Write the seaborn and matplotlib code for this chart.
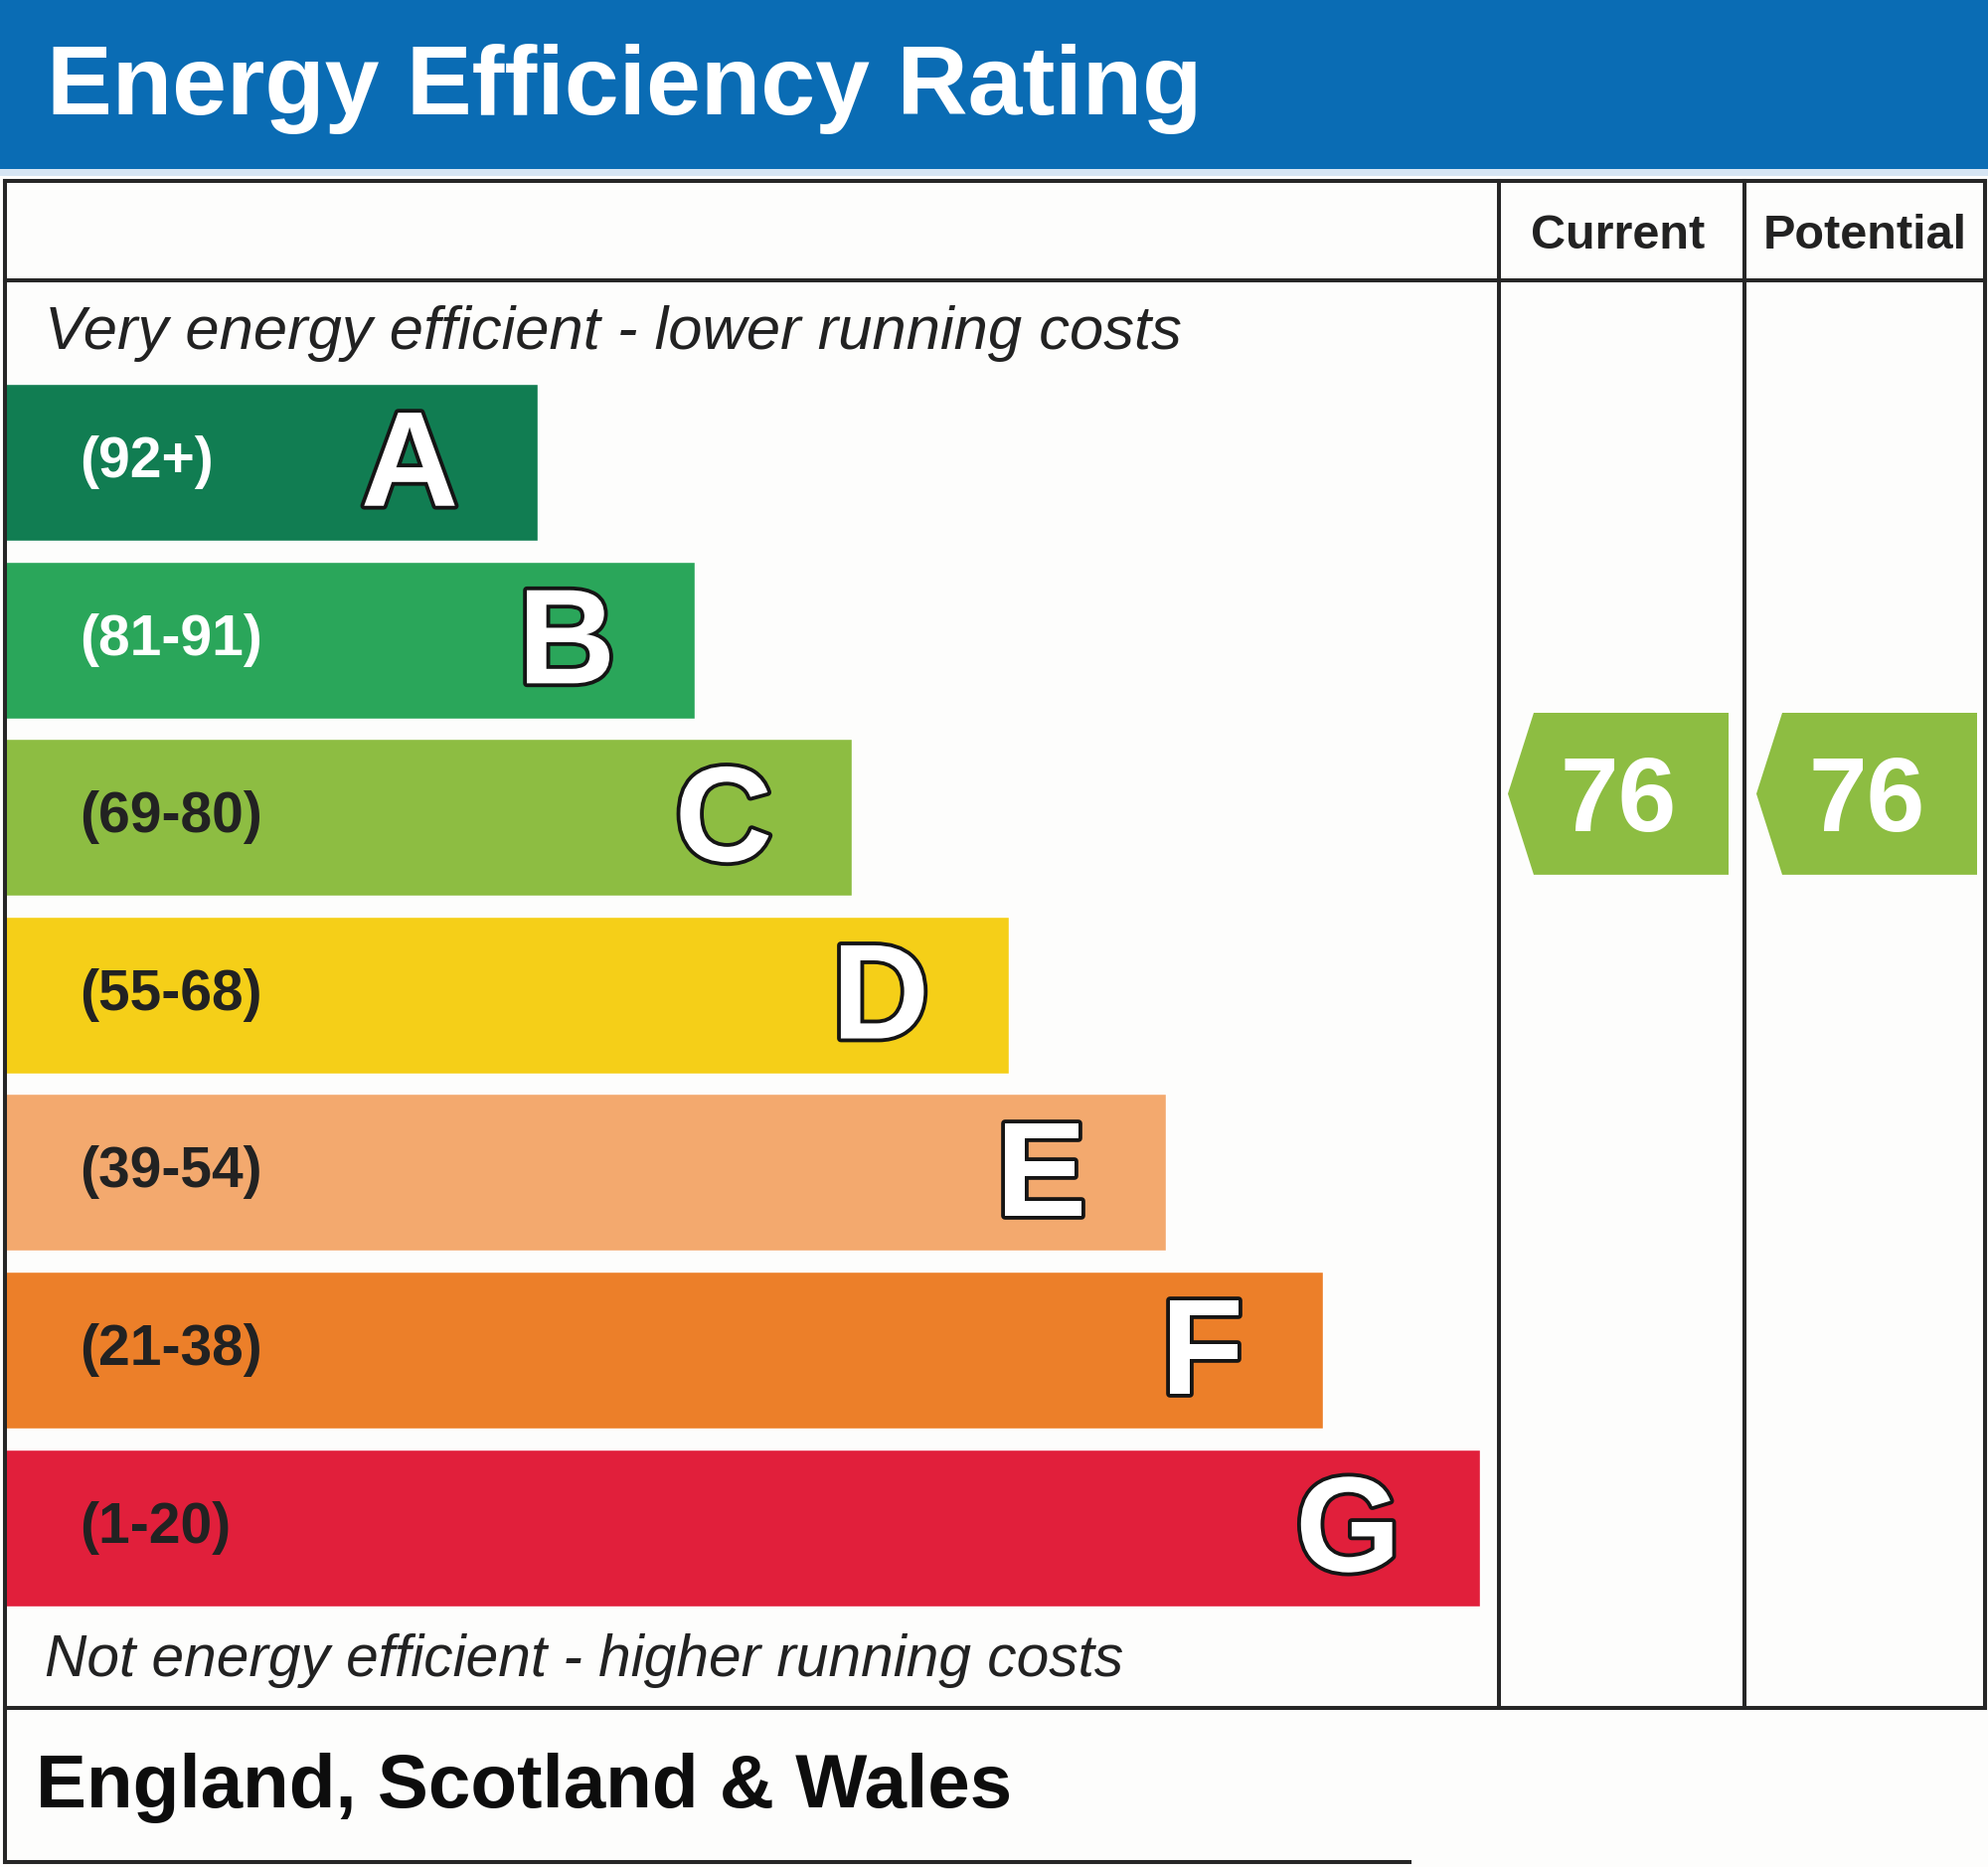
import matplotlib
matplotlib.use("Agg")
import matplotlib.pyplot as plt
import matplotlib.patheffects as pe
import matplotlib.transforms as mtransforms
from matplotlib.patches import Polygon, Rectangle
from matplotlib.lines import Line2D
import seaborn as sns
import pandas as pd

# chart data
bands = ["A", "B", "C", "D", "E", "F", "G"]
band_ranges = ["(92+)", "(81-91)", "(69-80)", "(55-68)", "(39-54)", "(21-38)", "(1-20)"]
band_floor = [92, 81, 69, 55, 39, 21, 1]
bar_length = [34, 44, 54, 64, 74, 84, 94]
band_colors = ["#117d52", "#2aa65a", "#8dbd42", "#f5cf18", "#f3a96e", "#ec7f29", "#e11f3b"]
range_colors = ["white", "white", "#222222", "#222222", "#222222", "#222222", "#222222"]
columns = ["Current", "Potential"]
ratings = [76, 76]

W, H = 2000, 1878
PX = 15.8        # pixels per bar-length unit
X0 = 4           # pixel where the bars start
ROW0, PITCH = 465, 178.6
LINE = "#262626"


def fx(px):
    return px / W


def fy(py):
    return 1 - py / H


sns.set_theme(style="white")
plt.rcParams["font.family"] = ["Liberation Sans", "DejaVu Sans"]

fig = plt.figure(figsize=(20, 18.78), dpi=100)
fig.patch.set_facecolor("#fdfdfc")
ax = fig.add_axes([0, 0, 1, 1])
ax.set_facecolor("none")

df = pd.DataFrame({"band": bands, "length": bar_length})
sns.barplot(data=df, x="length", y="band", hue="band", palette=band_colors,
            orient="h", width=0.885, saturation=1, errorbar=None,
            legend=False, ax=ax)
ax.set_xlim(-X0 / PX, (W - X0) / PX)
ax.set_ylim((H - ROW0) / PITCH, -ROW0 / PITCH)
ax.axis("off")

bt = mtransforms.blended_transform_factory(fig.transFigure, ax.transData)

for i, (rng, tc, length, letter) in enumerate(zip(band_ranges, range_colors, bar_length, bands)):
    ax.text(fx(80), i, rng, transform=bt, color=tc, fontsize=41,
            fontweight="bold", ha="left", va="center")
    ax.text(length - 80 / PX, i + 0.245, letter, color="white", fontsize=98,
            fontweight="bold", ha="right", va="baseline",
            path_effects=[pe.withStroke(linewidth=5.5, foreground="#151515")])

# rating arrows in the Current / Potential columns
col_left = [1517, 1767]
col_right = [1739, 1989]
for r, l, rr in zip(ratings, col_left, col_right):
    idx = next(i for i, f in enumerate(band_floor) if r >= f)
    yc = idx - 0.133
    h = 0.456
    pts = [(fx(l), yc), (fx(l + 26), yc - h), (fx(rr), yc - h),
           (fx(rr), yc + h), (fx(l + 26), yc + h)]
    ax.add_patch(Polygon(pts, closed=True, transform=bt, facecolor=band_colors[idx],
                         edgecolor="none", clip_on=False))
    ax.text(fx((l + rr) / 2), yc + 0.21, str(r), transform=bt, color="white",
            fontsize=76, fontweight="bold", ha="center", va="baseline")

# header band
fig.add_artist(Rectangle((0, fy(170)), 1, 170 / H, transform=fig.transFigure,
                         facecolor="#0a6cb4", edgecolor="none"))
fig.add_artist(Rectangle((0, fy(177)), 1, 7 / H, transform=fig.transFigure,
                         facecolor="#d6e5f3", edgecolor="none"))
fig.text(fx(47), fy(115), "Energy Efficiency Rating", color="white",
         fontsize=71, fontweight="bold", va="baseline")


def hline(y, x0, x1):
    fig.add_artist(Line2D([fx(x0), fx(x1)], [fy(y), fy(y)], transform=fig.transFigure,
                          color=LINE, lw=2.9, solid_capstyle="projecting"))


def vline(x, y0, y1):
    fig.add_artist(Line2D([fx(x), fx(x)], [fy(y0), fy(y1)], transform=fig.transFigure,
                          color=LINE, lw=2.9, solid_capstyle="projecting"))


hline(182, 5, 1997)
hline(282, 5, 1997)
hline(1718, 5, 1997)
hline(1873, 5, 1418)
vline(5, 182, 1873)
vline(1997, 182, 1718)
vline(1508, 182, 1718)
vline(1755, 182, 1718)

for name, cx in zip(columns, [1628, 1876]):
    fig.text(fx(cx), fy(250), name, color="#222222", fontsize=35,
             fontweight="bold", ha="center", va="baseline")

fig.text(fx(45), fy(351), "Very energy efficient - lower running costs",
         color="#222222", fontsize=44.3, style="italic", va="baseline")
fig.text(fx(45), fy(1686), "Not energy efficient - higher running costs",
         color="#222222", fontsize=42.2, style="italic", va="baseline")
fig.text(fx(36), fy(1818), "England, Scotland & Wales", color="#0d0d0d",
         fontsize=55, fontweight="bold", va="baseline")

fig.savefig("out.png", dpi=100, facecolor=fig.get_facecolor())
